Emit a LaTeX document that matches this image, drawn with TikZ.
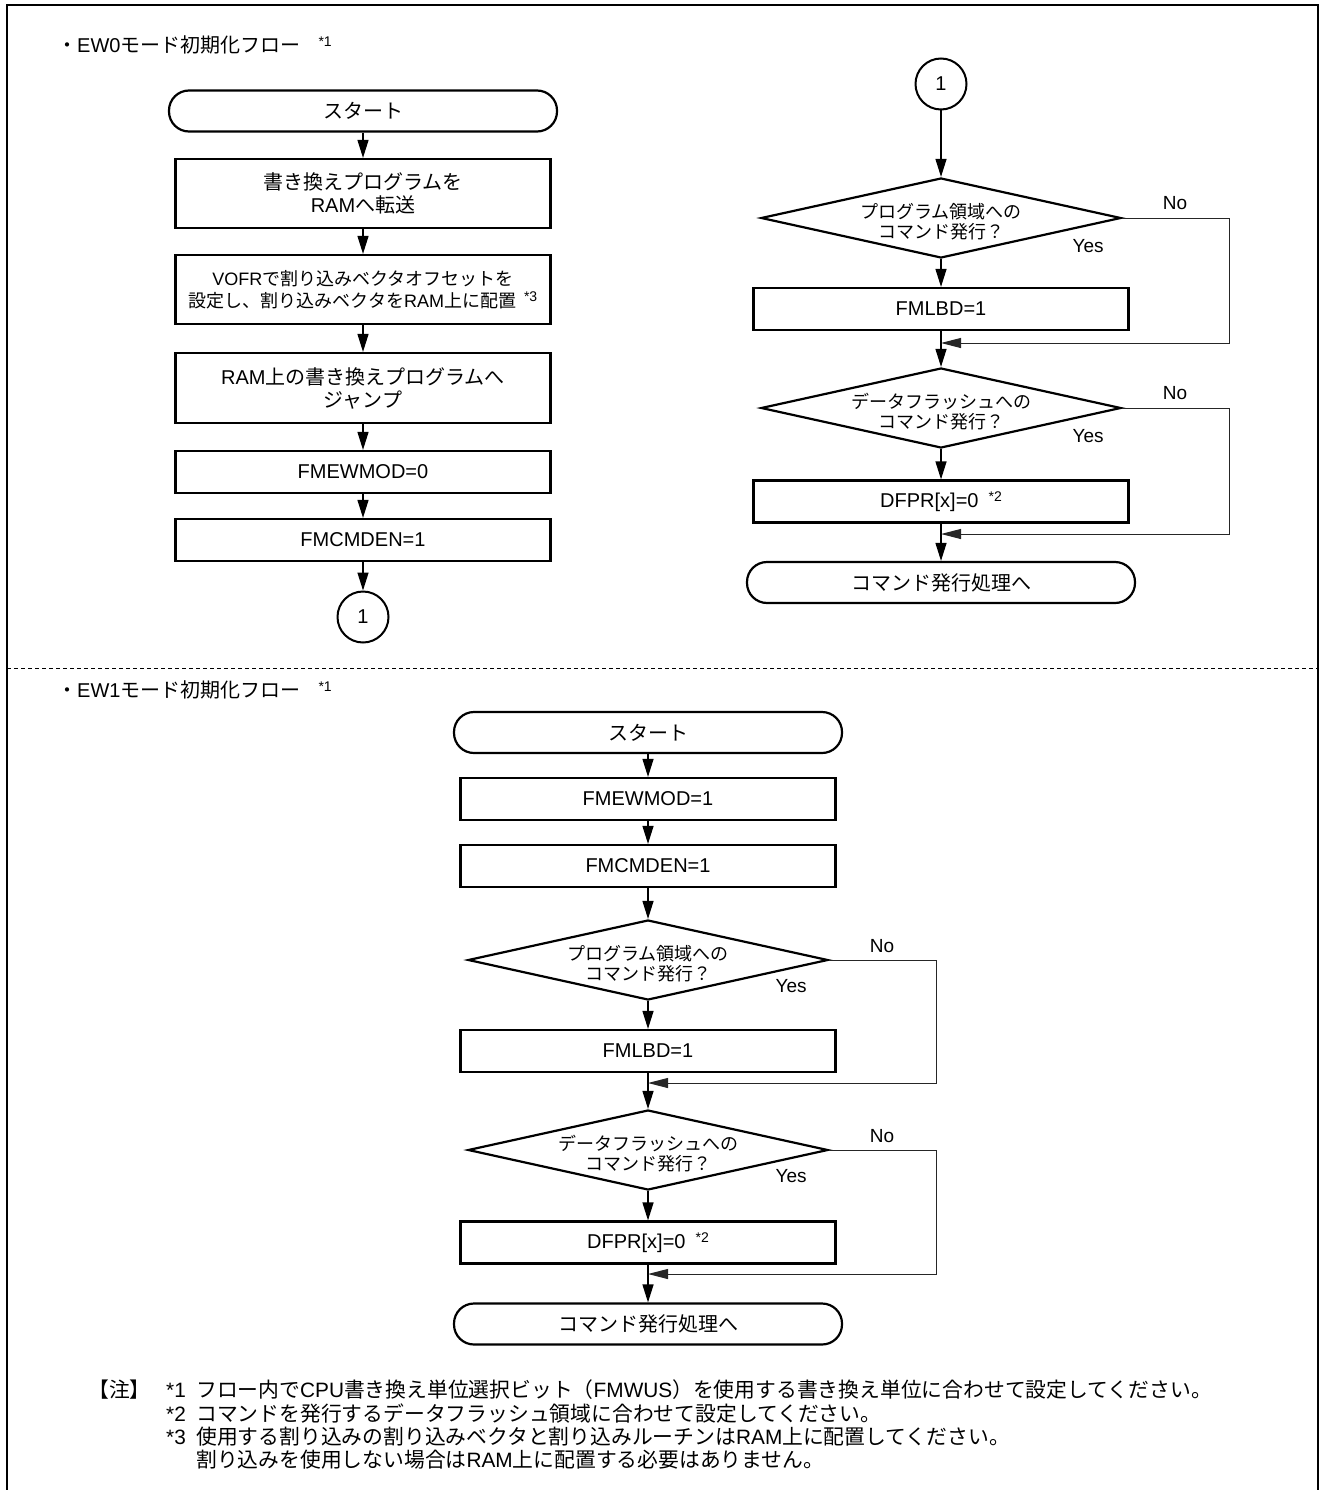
\documentclass[tikz,border=0pt]{standalone}
\usepackage{fontspec}
\setmainfont{Liberation Sans}
\newfontfamily\jpfont{Noto Sans CJK JP}
\usetikzlibrary{
    calc,
    shapes.geometric,
    arrows.meta
}
\newcommand{\jp}[1]{{\jpfont #1}}
\newcommand{\fnm}[1]{\raisebox{0.6ex}{\fontsize{14}{14}\selectfont *#1}}
\tikzset{
    every node/.style={font=\fontsize{20}{23}\selectfont},
    terminal/.style={draw, line width=2.2pt, rectangle, rounded corners=20pt,
        minimum width=388pt, minimum height=41pt, inner sep=0pt},
    process/.style={draw, line width=2.2pt, rectangle, align=center,
        minimum width=375pt, minimum height=42pt, inner sep=0pt},
    decision/.style={draw, line width=2.2pt, diamond,
        minimum width=360pt, minimum height=80pt, inner sep=0pt},
    dectext/.style={align=center, inner sep=0pt, font=\fontsize{18}{20}\selectfont},
    connector/.style={draw, line width=2pt, circle, minimum size=51pt, inner sep=0pt},
    flow/.style={line width=1.3pt, -{Triangle[length=18pt,width=11pt]}},
    noflow/.style={line width=1pt, black!85, -{Triangle[length=20pt,width=10pt]}},
    yesno/.style={inner sep=0pt, font=\fontsize{19}{19}\selectfont},
    note/.style={anchor=west, inner sep=0pt, font=\fontsize{20.8}{23}\selectfont}
}

\begin{document}
\begin{tikzpicture}[x=1pt, y=-1pt]
\useasboundingbox (0,0) rectangle (1324,1490);

\draw[line width=2pt] (7,1490) -- (7,5) -- (1318,5) -- (1318,1490);
\draw[line width=1pt, dash pattern=on 4pt off 3pt] (7,668) -- (1318,668);

\node[note, font=\fontsize{20}{23}\selectfont] (titleA) at (57,45)
    {\jp{・}EW0\jp{モード初期化フロー}\hspace{18pt}\fnm{1}};
\node[note, font=\fontsize{20}{23}\selectfont] (titleC) at (57,690)
    {\jp{・}EW1\jp{モード初期化フロー}\hspace{18pt}\fnm{1}};
%%
\node[terminal] (startA) at (363,111) {\jp{スタート}};
\node[process, minimum height=69pt] (xferA) at (363,193.5)
    {\jp{書き換えプログラムを}\\RAM\jp{へ転送}};
\node[process, minimum height=69pt, font=\fontsize{18}{22}\selectfont] (vofrA) at (363,289.5)
    {VOFR\jp{で割り込みベクタオフセットを}\\\jp{設定し、割り込みベクタを}RAM\jp{上に配置}\hspace{8pt}\fnm{3}};
\node[process, minimum height=70pt] (jumpA) at (363,388)
    {RAM\jp{上の書き換えプログラムへ}\\\jp{ジャンプ}};
\node[process] (modA) at (363,472) {FMEWMOD=0};
\node[process] (cmdA) at (363,540) {FMCMDEN=1};
\node[connector] (conA) at (363,617) {1};

\draw[flow] (startA) -- (xferA);
\draw[flow] (xferA) -- (vofrA);
\draw[flow] (vofrA) -- (jumpA);
\draw[flow] (jumpA) -- (modA);
\draw[flow] (modA) -- (cmdA);
\draw[flow] (cmdA) -- (conA);
%%
\node[connector] (conB) at (941,84) {1};
\node[decision] (progB) at (941,218) {};
\node[dectext] (progBt) at (941,222) {\jp{プログラム領域への}\\\jp{コマンド発行？}};
\node[process] (lbdB) at (941,309) {FMLBD=1};
\coordinate (mergeB1) at (941,343);
\node[decision] (dataB) at (941,408) {};
\node[dectext] (dataBt) at (941,412) {\jp{データフラッシュへの}\\\jp{コマンド発行？}};
\node[process] (dfprB) at (941,501.5) {DFPR[x]=0\hspace{10pt}\fnm{2}};
\coordinate (mergeB2) at (941,534);
\node[terminal] (endB) at (941,582.5) {\jp{コマンド発行処理へ}};

\node[yesno] (noB1) at ($(progB.east)+(53,-15)$) {No};
\node[yesno] (yesB1) at ($(progB.east)+(-34,28)$) {Yes};
\node[yesno] (noB2) at ($(dataB.east)+(53,-15)$) {No};
\node[yesno] (yesB2) at ($(dataB.east)+(-34,28)$) {Yes};

\draw[flow] (conB) -- (progB);
\draw[flow] (progB) -- (lbdB);
\draw[flow] (lbdB) -- (dataB);
\draw[flow] (dataB) -- (dfprB);
\draw[flow] (dfprB) -- (endB);
\draw[noflow] (progB.east) -- ++(107,0) |- (mergeB1);
\draw[noflow] (dataB.east) -- ++(107,0) |- (mergeB2);
%%
\node[terminal] (startC) at (648,732.5) {\jp{スタート}};
\node[process] (modC) at (648,799) {FMEWMOD=1};
\node[process] (cmdC) at (648,866) {FMCMDEN=1};
\node[decision] (progC) at (648,960) {};
\node[dectext] (progCt) at (648,964) {\jp{プログラム領域への}\\\jp{コマンド発行？}};
\node[process] (lbdC) at (648,1051) {FMLBD=1};
\coordinate (mergeC1) at (648,1083);
\node[decision] (dataC) at (648,1150) {};
\node[dectext] (dataCt) at (648,1154) {\jp{データフラッシュへの}\\\jp{コマンド発行？}};
\node[process] (dfprC) at (648,1242.5) {DFPR[x]=0\hspace{10pt}\fnm{2}};
\coordinate (mergeC2) at (648,1274);
\node[terminal] (endC) at (648,1324) {\jp{コマンド発行処理へ}};

\node[yesno] (noC1) at ($(progC.east)+(53,-14)$) {No};
\node[yesno] (yesC1) at ($(progC.east)+(-38,26)$) {Yes};
\node[yesno] (noC2) at ($(dataC.east)+(53,-14)$) {No};
\node[yesno] (yesC2) at ($(dataC.east)+(-38,26)$) {Yes};

\draw[flow] (startC) -- (modC);
\draw[flow] (modC) -- (cmdC);
\draw[flow] (cmdC) -- (progC);
\draw[flow] (progC) -- (lbdC);
\draw[flow] (lbdC) -- (dataC);
\draw[flow] (dataC) -- (dfprC);
\draw[flow] (dfprC) -- (endC);
\draw[noflow] (progC.east) -- ++(107,0) |- (mergeC1);
\draw[noflow] (dataC.east) -- ++(107,0) |- (mergeC2);
%%
\node[note] (noteHead) at (88,1390) {\jp{【注】}};
\node[note] (mark1) at (166,1390) {*1};
\node[note] (note1) at (196,1390)
    {\jp{フロー内で}CPU\jp{書き換え単位選択ビット（}FMWUS\jp{）を使用する書き換え単位に合わせて設定してください。}};
\node[note] (mark2) at (166,1414) {*2};
\node[note] (note2) at (196,1414)
    {\jp{コマンドを発行するデータフラッシュ領域に合わせて設定してください。}};
\node[note] (mark3) at (166,1437) {*3};
\node[note] (note3) at (196,1437)
    {\jp{使用する割り込みの割り込みベクタと割り込みルーチンは}RAM\jp{上に配置してください。}};
\node[note] (note3b) at (196,1460)
    {\jp{割り込みを使用しない場合は}RAM\jp{上に配置する必要はありません。}};
\end{tikzpicture}
\end{document}
